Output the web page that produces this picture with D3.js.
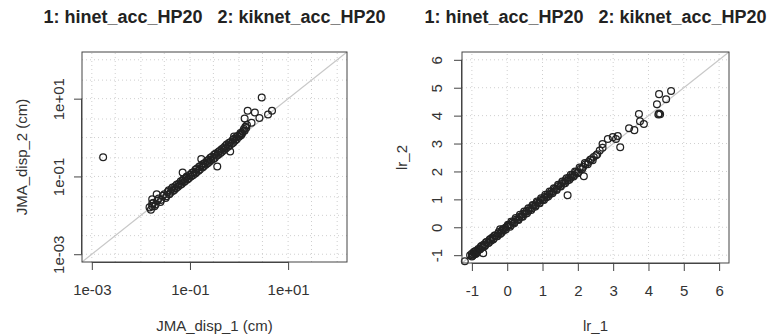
<!DOCTYPE html>
<html>
<head>
<meta charset="utf-8">
<script src="https://cdn.jsdelivr.net/npm/d3@7"></script>
<style>
  body { margin: 0; background: #fff; }
  text { font-family: "Liberation Sans", Arial, sans-serif; fill: #333; }
  .title { font-weight: bold; font-size: 18px; fill: #222; white-space: pre; }
  .tick { font-size: 15px; }
  .axisLabel { font-size: 15px; }
</style>
</head>
<body>
<div id="chart"></div>
<script>
// titles / labels
var panelTitle = "1: hinet_acc_HP20   2: kiknet_acc_HP20";
var dispLabels = ["JMA_disp_1 (cm)", "JMA_disp_2 (cm)"];
var lrLabels = ["lr_1", "lr_2"];

// tick values
var dispTicks = [1e-3, 1e-1, 1e1];
var dispTickLabels = ["1e-03", "1e-01", "1e+01"];
var dispGrid = [1e-3, 3e-3, 1e-2, 3e-2, 1e-1, 3e-1, 1, 3, 10, 30, 100];
var lrTicks = [-1, 0, 1, 2, 3, 4, 5, 6];

// left panel: JMA displacement (cm), [disp_1, disp_2]
var dispPairs = [
  [0.016, 0.014], [0.018, 0.021], [0.019, 0.017], [0.022, 0.024], [0.025, 0.022],
  [0.028, 0.032], [0.032, 0.028], [0.035, 0.040], [0.038, 0.035], [0.042, 0.047],
  [0.045, 0.042], [0.050, 0.056], [0.052, 0.050], [0.060, 0.066], [0.063, 0.060],
  [0.071, 0.079], [0.076, 0.072], [0.083, 0.093], [0.089, 0.083], [0.10, 0.11],
  [0.105, 0.10], [0.12, 0.13], [0.126, 0.117], [0.14, 0.16], [0.15, 0.14],
  [0.17, 0.19], [0.18, 0.17], [0.20, 0.22], [0.21, 0.20], [0.24, 0.27],
  [0.25, 0.24], [0.28, 0.32], [0.30, 0.28], [0.33, 0.38], [0.35, 0.34],
  [0.40, 0.45], [0.42, 0.40], [0.48, 0.54], [0.50, 0.48], [0.56, 0.66],
  [0.60, 0.58], [0.66, 0.76], [0.71, 0.69], [0.79, 0.93], [0.83, 0.83],
  [0.93, 1.1], [1.0, 1.05], [1.07, 1.3], [1.15, 1.26], [1.26, 1.66],
  [1.35, 1.9], [1.45, 2.1],
  [0.017, 0.020], [0.020, 0.019], [0.023, 0.027], [0.026, 0.025], [0.030, 0.035],
  [0.033, 0.031], [0.037, 0.044], [0.040, 0.038], [0.044, 0.052], [0.048, 0.045],
  [0.054, 0.062], [0.057, 0.054], [0.065, 0.075], [0.068, 0.064], [0.074, 0.086],
  [0.080, 0.076], [0.086, 0.10], [0.095, 0.090], [0.11, 0.125], [0.115, 0.108],
  [0.13, 0.15], [0.135, 0.126], [0.155, 0.18], [0.16, 0.15], [0.185, 0.21],
  [0.19, 0.18], [0.22, 0.25], [0.23, 0.22], [0.26, 0.30], [0.27, 0.26],
  [0.31, 0.36], [0.32, 0.30], [0.37, 0.42], [0.38, 0.36], [0.44, 0.50],
  [0.45, 0.43], [0.52, 0.60], [0.54, 0.52], [0.62, 0.72], [0.64, 0.62],
  [0.74, 0.86], [0.76, 0.74], [0.88, 1.02], [0.90, 0.90], [1.05, 1.2],
  [1.1, 1.15], [1.2, 1.45], [1.3, 1.5], [1.4, 1.75],
  [0.021, 0.035], [0.017, 0.026], [0.017, 0.017], [0.015, 0.016], [0.071, 0.126],
  [0.17, 0.28], [0.36, 0.18], [0.66, 0.44], [0.79, 1.07],
  [2.9, 10.7], [1.5, 4.9], [2.1, 4.4], [4.7, 4.9], [3.9, 3.9],
  [2.6, 3.2], [1.8, 2.4], [1.3, 3.1], [0.0017, 0.31]
];

// right panel: lr, [lr_1, lr_2]
var lrPairs = [
  [-1.05, -1.00], [-1.00, -0.95], [-0.98, -1.02], [-1.00, -1.05], [-0.95, -0.90],
  [-0.92, -0.97], [-0.88, -0.95], [-0.90, -0.85], [-0.85, -0.88], [-0.82, -0.78],
  [-0.78, -0.80], [-0.75, -0.70], [-0.70, -0.72], [-0.66, -0.62], [-0.62, -0.64],
  [-0.58, -0.53], [-0.54, -0.56], [-0.50, -0.45], [-0.46, -0.48], [-0.42, -0.37],
  [-0.38, -0.40], [-0.34, -0.30], [-0.30, -0.32], [-0.25, -0.22], [-0.20, -0.24],
  [-0.15, -0.12], [-0.10, -0.12], [-0.05, -0.02], [0.00, 0.03], [0.05, 0.08],
  [0.10, 0.07], [0.15, 0.18], [0.20, 0.18], [0.25, 0.28], [0.30, 0.28],
  [0.35, 0.38], [0.40, 0.38], [0.45, 0.48], [0.50, 0.48], [0.55, 0.58],
  [0.60, 0.58], [0.65, 0.68], [0.70, 0.68], [0.75, 0.78], [0.80, 0.78],
  [0.85, 0.88], [0.90, 0.87], [0.95, 0.98], [1.00, 0.98], [1.05, 1.08],
  [1.10, 1.07], [1.15, 1.18], [1.20, 1.17], [1.25, 1.28], [1.30, 1.27],
  [1.35, 1.38], [1.40, 1.37], [1.45, 1.48], [1.50, 1.47], [1.55, 1.58],
  [1.60, 1.57], [1.65, 1.68], [1.70, 1.67], [1.75, 1.78], [1.80, 1.77],
  [1.85, 1.88], [1.90, 1.87], [1.95, 1.98], [2.00, 1.97], [2.08, 2.10],
  [2.15, 2.16], [2.22, 2.26], [2.30, 2.34], [2.38, 2.44], [2.45, 2.52],
  [2.55, 2.62], [2.62, 2.75], [2.70, 2.85],
  [-0.96, -0.98], [-0.93, -0.88], [-0.87, -0.90], [-0.83, -0.82], [-0.76, -0.78],
  [-0.72, -0.66], [-0.64, -0.68], [-0.60, -0.54], [-0.52, -0.55], [-0.48, -0.42],
  [-0.40, -0.44], [-0.36, -0.30], [-0.28, -0.32], [-0.24, -0.17], [-0.16, -0.20],
  [-0.12, -0.06], [-0.04, -0.08], [0.02, 0.09], [0.08, 0.02], [0.12, 0.21],
  [0.20, 0.14], [0.24, 0.33], [0.32, 0.26], [0.36, 0.45], [0.44, 0.38],
  [0.48, 0.56], [0.56, 0.50], [0.60, 0.68], [0.68, 0.62], [0.72, 0.80],
  [0.80, 0.74], [0.84, 0.92], [0.92, 0.86], [0.96, 1.04], [1.04, 0.98],
  [1.08, 1.16], [1.16, 1.10], [1.20, 1.28], [1.28, 1.22], [1.32, 1.40],
  [1.40, 1.34], [1.44, 1.52], [1.52, 1.46], [1.56, 1.64], [1.64, 1.58],
  [1.68, 1.76], [1.76, 1.70], [1.80, 1.88], [1.88, 1.82], [1.92, 2.00],
  [2.00, 1.94], [2.05, 2.14], [2.12, 2.08], [2.20, 2.30], [2.28, 2.26],
  [2.35, 2.42], [2.42, 2.40], [2.52, 2.58],
  [-1.2, -1.22], [-0.68, -0.93], [-0.2, -0.07], [0.0, 0.04], [1.71, 1.15], [2.17, 1.83],
  [2.7, 2.98], [2.85, 3.16], [2.99, 3.23], [3.13, 3.27], [3.2, 2.87], [3.08, 3.16],
  [3.45, 3.55], [3.6, 3.48], [3.73, 4.06], [3.76, 3.8], [3.87, 3.7],
  [4.24, 4.41], [4.3, 4.77], [4.5, 4.59], [4.64, 4.88],
  [4.28, 4.04], [4.3, 4.08], [4.33, 4.05]
];

var svg = d3.select("#chart").append("svg")
  .attr("width", 779)
  .attr("height", 335);

function drawPanel(opt) {
  var x = opt.x, y = opt.y;
  var g = svg.append("g");
  var x0 = x.range()[0], x1 = x.range()[1];
  var y0 = y.range()[0], y1 = y.range()[1];

  // dotted grid
  g.selectAll(".gx").data(opt.grid).enter().append("line")
    .attr("x1", d => x(d)).attr("x2", d => x(d))
    .attr("y1", y0).attr("y2", y1)
    .style("stroke", "#cfcfcf").style("stroke-dasharray", "1,3");
  g.selectAll(".gy").data(opt.grid).enter().append("line")
    .attr("y1", d => y(d)).attr("y2", d => y(d))
    .attr("x1", x0).attr("x2", x1)
    .style("stroke", "#cfcfcf").style("stroke-dasharray", "1,3");

  // 1:1 line, corner to corner
  var dom = x.domain();
  g.append("line")
    .attr("x1", x(dom[0])).attr("y1", y(dom[0]))
    .attr("x2", x(dom[1])).attr("y2", y(dom[1]))
    .style("stroke", "#c8c8c8").style("stroke-width", 1.2);

  // points
  g.selectAll("circle").data(opt.data).enter().append("circle")
    .attr("cx", d => x(d[0]))
    .attr("cy", d => y(d[1]))
    .attr("r", 3.4)
    .style("fill", "none")
    .style("stroke", "#222")
    .style("stroke-width", 1.25);

  // box
  g.append("rect")
    .attr("x", x0).attr("y", y1)
    .attr("width", x1 - x0).attr("height", y0 - y1)
    .style("fill", "none").style("stroke", "#444");

  // x axis
  var xa = g.append("g").attr("transform", "translate(0," + y0 + ")")
    .call(d3.axisBottom(x).tickValues(opt.ticks).tickSize(8).tickPadding(0)
      .tickFormat((d, i) => opt.tickLabels[i]));
  xa.select(".domain").attr("d", "M" + x(opt.ticks[0]) + ",0.5H" + x(opt.ticks[opt.ticks.length - 1]))
    .style("stroke", "#444");
  xa.selectAll(".tick line").style("stroke", "#444");
  xa.selectAll(".tick text").attr("class", "tick").attr("dy", null).attr("y", 33).style("font-family", null);

  // y axis
  var ya = g.append("g").attr("transform", "translate(" + x0 + ",0)")
    .call(d3.axisLeft(y).tickValues(opt.ticks).tickSize(8).tickPadding(0)
      .tickFormat((d, i) => opt.tickLabels[i]));
  ya.select(".domain").attr("d", "M-0.5," + y(opt.ticks[0]) + "V" + y(opt.ticks[opt.ticks.length - 1]))
    .style("stroke", "#444");
  ya.selectAll(".tick line").style("stroke", "#444");
  ya.selectAll(".tick text").attr("class", "tick")
    .attr("x", null).attr("dy", null)
    .attr("transform", "translate(" + opt.yTickX + ",0) rotate(-90)")
    .style("text-anchor", "middle").style("font-family", null);

  // labels
  svg.append("text").attr("class", "title")
    .attr("x", (x0 + x1) / 2).attr("y", 23)
    .attr("text-anchor", "middle")
    .text(panelTitle);

  svg.append("text").attr("class", "axisLabel")
    .attr("x", (x0 + x1) / 2).attr("y", 331)
    .attr("text-anchor", "middle")
    .text(opt.labels[0]);

  svg.append("text").attr("class", "axisLabel")
    .attr("transform", "translate(" + opt.yLabelX + "," + ((y0 + y1) / 2) + ") rotate(-90)")
    .attr("text-anchor", "middle")
    .text(opt.labels[1]);
}

drawPanel({
  x: d3.scaleLog().domain([Math.pow(10, -3.2), Math.pow(10, 2.2)]).range([82, 347]),
  y: d3.scaleLog().domain([Math.pow(10, -3.2), Math.pow(10, 2.2)]).range([262, 52]),
  grid: dispGrid,
  ticks: dispTicks,
  tickLabels: dispTickLabels,
  data: dispPairs,
  labels: dispLabels,
  yTickX: -18,
  yLabelX: 27
});

drawPanel({
  x: d3.scaleLinear().domain([-1.28, 6.28]).range([462, 729]),
  y: d3.scaleLinear().domain([-1.28, 6.28]).range([263, 52]),
  grid: lrTicks,
  ticks: lrTicks,
  tickLabels: lrTicks.map(String),
  data: lrPairs,
  labels: lrLabels,
  yTickX: -20,
  yLabelX: 407
});
</script>
</body>
</html>
